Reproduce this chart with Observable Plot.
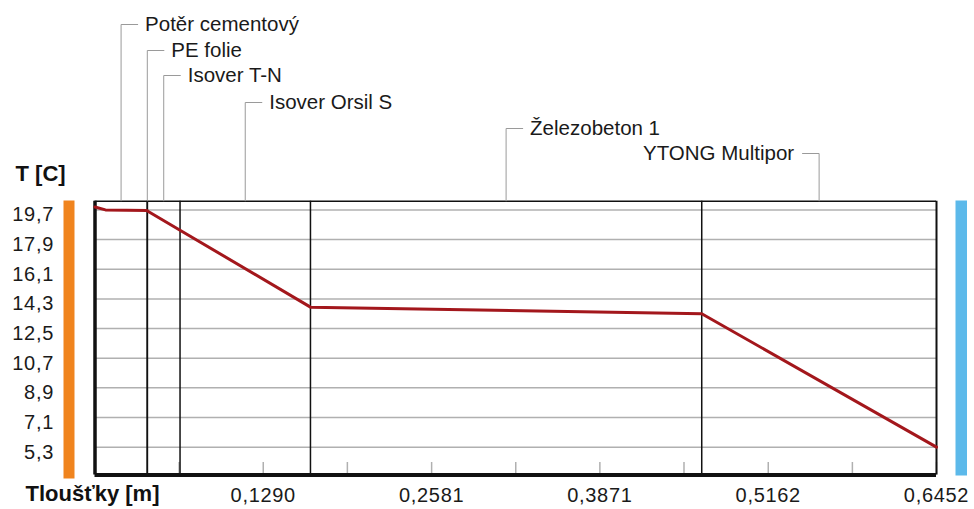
<!DOCTYPE html>
<html>
<head>
<meta charset="utf-8">
<script src="https://cdn.jsdelivr.net/npm/d3@7"></script>
<script src="https://cdn.jsdelivr.net/npm/@observablehq/plot@0.6"></script>
<style>
  html, body { margin: 0; padding: 0; background: #fff; }
  #chart svg { display: block; }
  #chart g[aria-label="x-axis tick label"] text,
  #chart g[aria-label="y-axis tick label"] text { letter-spacing: 0.7px; }
</style>
</head>
<body>
<div id="chart"></div>
<script>
// ---- data ----
const layerNames = ["Potěr cementový", "PE folie", "Isover T-N", "Isover Orsil S", "Železobeton 1", "YTONG Multipor"];
const layerThickness = [0.04, 0.0002, 0.025, 0.1, 0.3, 0.18];
const profileX = [0, 0.008, 0.04, 0.0402, 0.0652, 0.1652, 0.4652, 0.6452];
const profileT = [19.88, 19.70, 19.66, 19.64, 18.47, 13.80, 13.40, 5.30];
const yTicks = [19.7, 17.9, 16.1, 14.3, 12.5, 10.7, 8.9, 7.1, 5.3];
const xTicks = [0.1290, 0.2581, 0.3871, 0.5162, 0.6452];
const xMinorTicks = [0.0645, 0.1935, 0.3226, 0.4516, 0.5807];
const yTitle = "T [C]";
const xTitle = "Tloušťky [m]";

// ---- layout ----
const W = 974, H = 509;
const mL = 94.5, mR = 38, mT = 200.7, mB = 34.5;
const xMax = 0.6452;
const yDomain = [3.61, 20.23];
const pyToT = py => yDomain[1] - (py - mT) / (H - mT - mB) * (yDomain[1] - yDomain[0]);
const pxW = px => px / (W - mL - mR) * xMax;
const labelRowY = [24, 50, 75, 102, 128, 153];
const labelSide = [1, 1, 1, 1, 1, -1];

let acc = 0;
const layers = layerNames.map((name, i) => {
  const start = acc;
  acc += layerThickness[i];
  return { name, start, end: acc, mid: start + layerThickness[i] / 2, rowT: pyToT(labelRowY[i]), side: labelSide[i] };
});
const boundaries = layers.slice(0, -1).map(d => d.end);
const profile = profileX.map((x, i) => ({ x, t: profileT[i] }));

const fmtX = d => d.toFixed(4).replace(".", ",");
const fmtY = d => d.toFixed(1).replace(".", ",");
const leader = "#9a9a9a";
const textCol = "#1a1a1a";

const chart = Plot.plot({
  width: W, height: H,
  marginLeft: mL, marginRight: mR, marginTop: mT, marginBottom: mB,
  style: { background: "white", fontFamily: "'Liberation Sans', Arial, sans-serif" },
  x: { domain: [0, xMax], axis: null },
  y: { domain: yDomain, axis: null },
  marks: [
    // side bars (interior / exterior)
    Plot.frame({ fill: "#f0841e", stroke: "none", insetLeft: -31.5, insetRight: 862, insetTop: -0.7, insetBottom: -3.5 }),
    Plot.frame({ fill: "#5cb9ea", stroke: "none", insetLeft: 860.5, insetRight: -30.5, insetTop: -0.7, insetBottom: -0.5 }),
    // grid
    Plot.gridY(yTicks, { stroke: "#b0b0b0", strokeOpacity: 1, strokeWidth: 1.5 }),
    // minor/major bottom ticks (inward)
    Plot.ruleX([...xTicks, ...xMinorTicks], { y1: yDomain[0], y2: pyToT(462), stroke: "#b0b0b0", strokeWidth: 1.5 }),
    // layer boundaries
    Plot.ruleX(boundaries, { stroke: "#111", strokeWidth: 1.5 }),
    // frame
    Plot.ruleY([yDomain[1]], { stroke: "#111", strokeWidth: 1.5 }),
    Plot.ruleX([xMax], { stroke: "#111", strokeWidth: 2 }),
    Plot.ruleX([0], { stroke: "#111", strokeWidth: 3.5 }),
    Plot.ruleY([yDomain[0]], { stroke: "#111", strokeWidth: 4 }),
    // temperature profile
    Plot.line(profile, { x: "x", y: "t", stroke: "#a3171c", strokeWidth: 3 }),
    // leader lines
    Plot.link(layers, { x1: "mid", x2: "mid", y1: "rowT", y2: () => yDomain[1], stroke: leader, strokeWidth: 1 }),
    Plot.link(layers, { x1: "mid", x2: d => d.mid + d.side * pxW(17), y1: "rowT", y2: "rowT", stroke: leader, strokeWidth: 1 }),
    Plot.text(layers.filter(d => d.side > 0), { x: d => d.mid + pxW(24), y: "rowT", text: "name", textAnchor: "start", lineAnchor: "middle", fontSize: 20.5, fill: textCol }),
    Plot.text(layers.filter(d => d.side < 0), { x: d => d.mid - pxW(25), y: "rowT", text: "name", textAnchor: "end", lineAnchor: "middle", fontSize: 20.5, fill: textCol }),
    // axes
    Plot.axisY(yTicks, { tickSize: 0, tickPadding: 41, tickFormat: fmtY, fontSize: 20, dy: 5, fill: textCol }),
    Plot.axisX(xTicks, { tickSize: 0, tickPadding: 13, tickFormat: fmtX, fontSize: 20, fill: textCol }),
    // titles
    Plot.text([yTitle], { frameAnchor: "top-left", dx: -79.5, dy: -27, textAnchor: "start", lineAnchor: "middle", fontSize: 22, fontWeight: "bold", fill: "#111" }),
    Plot.text([xTitle], { frameAnchor: "bottom-left", dx: -69.5, dy: 19, textAnchor: "start", lineAnchor: "middle", fontSize: 22, fontWeight: "bold", fill: "#111" })
  ]
});
document.getElementById("chart").appendChild(chart);
</script>
</body>
</html>
